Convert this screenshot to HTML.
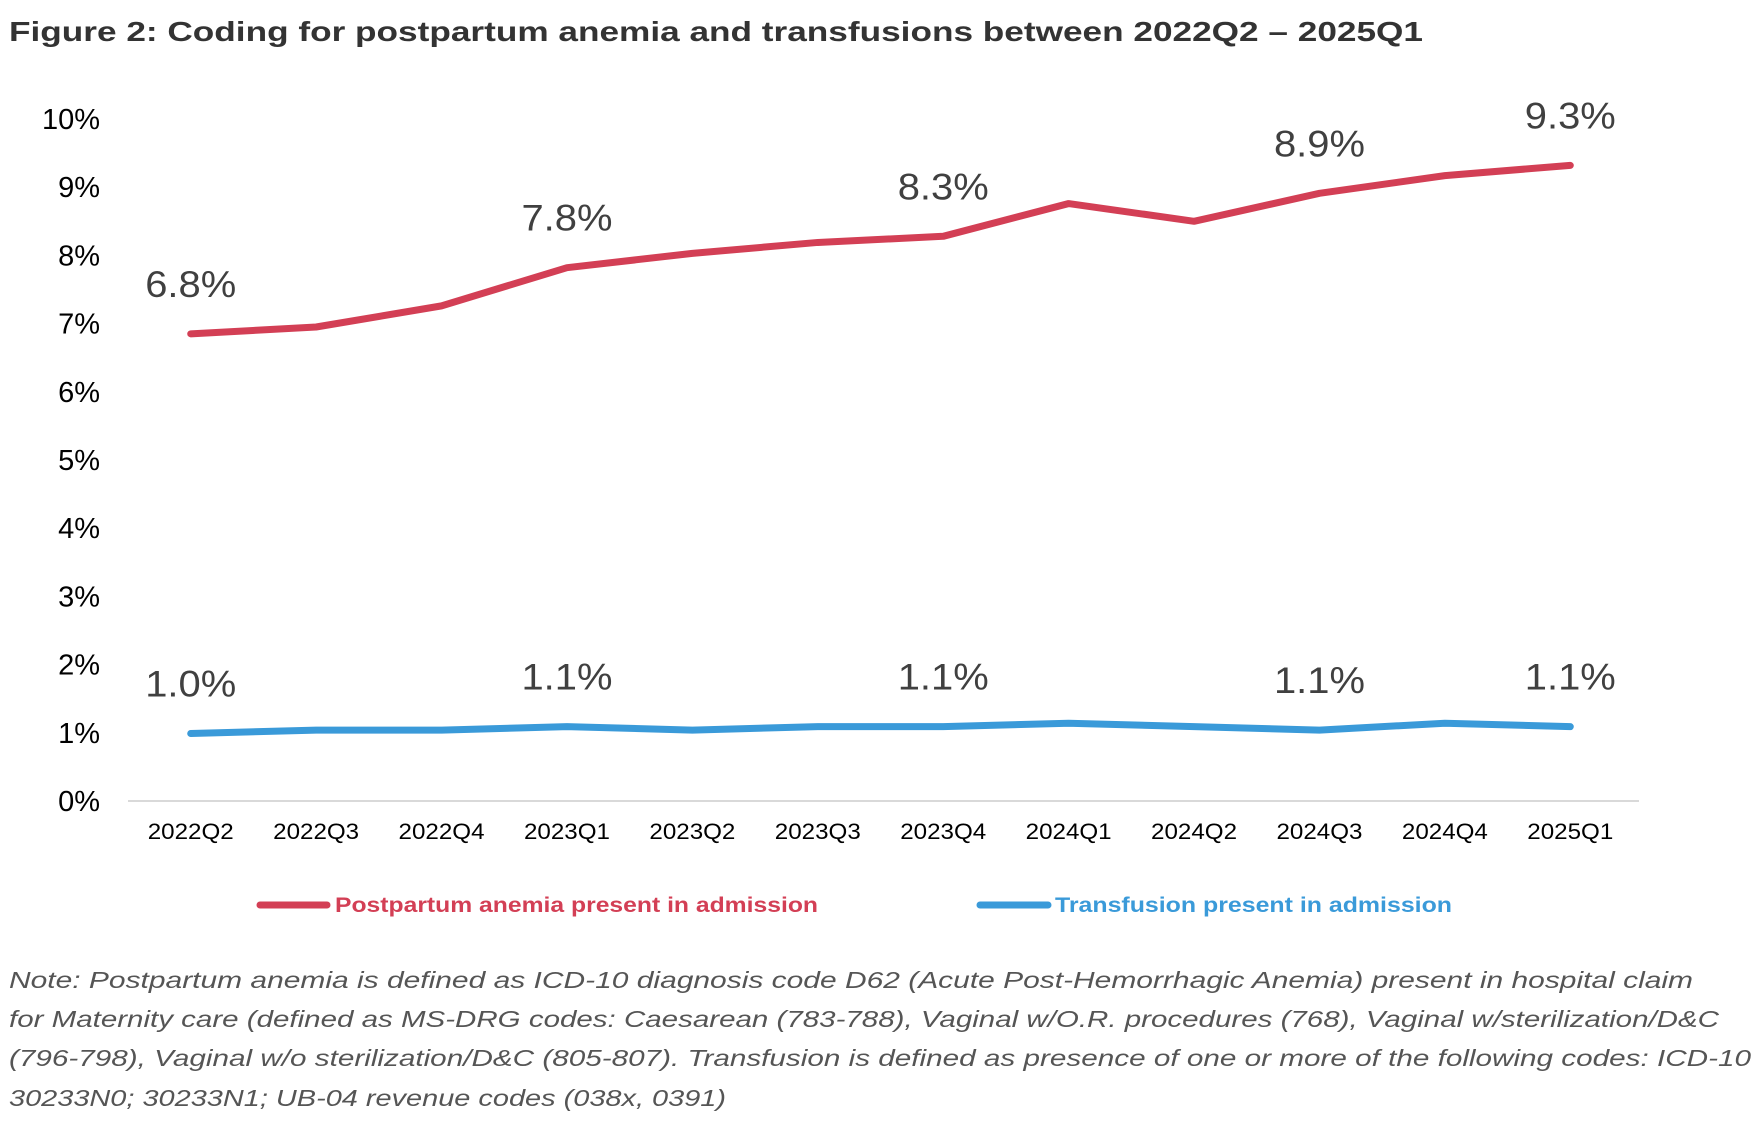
<!DOCTYPE html>
<html><head><meta charset="utf-8"><style>
body{margin:0;background:#fff;}
svg{display:block;font-family:"Liberation Sans",Arial,sans-serif;}
</style></head><body>
<svg id="chart" width="1764" height="1132" viewBox="0 0 1764 1132">
<text x="9" y="41" font-size="28" font-weight="bold" fill="#333" textLength="1414" lengthAdjust="spacingAndGlyphs">Figure 2: Coding for postpartum anemia and transfusions between 2022Q2 – 2025Q1</text>
<g id="yaxis"></g>
<g id="xaxis"></g>
<g id="series"></g>
<g>
<g>
<line x1="260" y1="905" x2="327" y2="905" stroke="#d33f55" stroke-width="7" stroke-linecap="round"/>
<text x="335" y="912" font-size="21" font-weight="bold" fill="#d33f55" textLength="483" lengthAdjust="spacingAndGlyphs">Postpartum anemia present in admission</text>
</g>
<g>
<line x1="980" y1="905" x2="1048" y2="905" stroke="#3a9ad9" stroke-width="7" stroke-linecap="round"/>
<text x="1055" y="912" font-size="21" font-weight="bold" fill="#3a9ad9" textLength="397" lengthAdjust="spacingAndGlyphs">Transfusion present in admission</text>
</g>
</g>
<g font-size="23" font-style="italic" fill="#555">
<text x="9" y="988" textLength="1684" lengthAdjust="spacingAndGlyphs">Note: Postpartum anemia is defined as ICD-10 diagnosis code D62 (Acute Post-Hemorrhagic Anemia) present in hospital claim</text>
<text x="9" y="1027" textLength="1710" lengthAdjust="spacingAndGlyphs">for Maternity care (defined as MS-DRG codes: Caesarean (783-788), Vaginal w/O.R. procedures (768), Vaginal w/sterilization/D&amp;C</text>
<text x="9" y="1066" textLength="1742" lengthAdjust="spacingAndGlyphs">(796-798), Vaginal w/o sterilization/D&amp;C (805-807). Transfusion is defined as presence of one or more of the following codes: ICD-10</text>
<text x="9" y="1106" textLength="717" lengthAdjust="spacingAndGlyphs">30233N0; 30233N1; UB-04 revenue codes (038x, 0391)</text>
</g>
</svg>
<script>
const categories=["2022Q2","2022Q3","2022Q4","2023Q1","2023Q2","2023Q3","2023Q4","2024Q1","2024Q2","2024Q3","2024Q4","2025Q1"];
const anemia=[6.85,6.95,7.26,7.82,8.03,8.19,8.28,8.76,8.5,8.91,9.17,9.32];
const transfusion=[0.99,1.04,1.04,1.09,1.04,1.09,1.09,1.14,1.09,1.04,1.14,1.09];
const anemiaLabels=["6.8%","","","7.8%","","","8.3%","","","8.9%","","9.3%"];
const transfusionLabels=["1.0%","","","1.1%","","","1.1%","","","1.1%","","1.1%"];
const yTicks=[0,1,2,3,4,5,6,7,8,9,10];
const NS="http://www.w3.org/2000/svg";
const X0=128,X1=1633,Y0=801,PER=68.2;
const xs=i=>X0+(X1-X0)/categories.length*(i+0.5);
const ys=v=>Y0-v*PER;
function mk(tag,attrs,parent){const e=document.createElementNS(NS,tag);for(const k in attrs)e.setAttribute(k,attrs[k]);parent.appendChild(e);return e;}
const yg=document.getElementById('yaxis'),xg=document.getElementById('xaxis'),sg=document.getElementById('series');
yTicks.forEach(t=>{const e=mk('text',{x:100,y:ys(t)+10,'font-size':29,fill:'#000','text-anchor':'end'},yg);e.textContent=t+'%';

});
const ax=mk('line',{x1:X0,x2:X1+6,y1:Y0,y2:Y0,stroke:'#d9d9d9','stroke-width':2},xg);


categories.forEach((c,i)=>{const e=mk('text',{x:xs(i),y:839,'font-size':22,fill:'#000','text-anchor':'middle',textLength:86,lengthAdjust:'spacingAndGlyphs'},xg);e.textContent=c;

});
function series(vals,labels,color,name){
 const p=mk('polyline',{points:vals.map((v,i)=>xs(i)+','+ys(v)).join(' '),fill:'none',stroke:color,'stroke-width':7,'stroke-linecap':'round','stroke-linejoin':'round'},sg);
 
 
 vals.forEach((v,i)=>{if(!labels[i])return;const t=mk('text',{x:xs(i),y:ys(v)-37,'font-size':37,fill:'#404040','text-anchor':'middle',textLength:91,lengthAdjust:'spacingAndGlyphs'},sg);t.textContent=labels[i];
 
 });
}
series(anemia,anemiaLabels,'#d33f55','anemia');
series(transfusion,transfusionLabels,'#3a9ad9','transfusion');
</script>
</body></html>
